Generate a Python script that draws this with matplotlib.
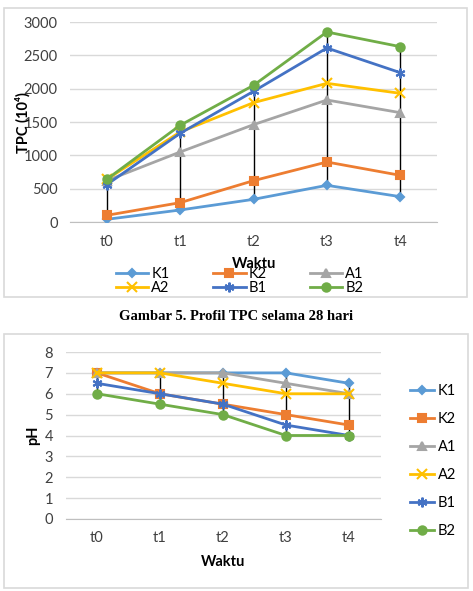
import matplotlib
matplotlib.use('Agg')
import matplotlib.pyplot as plt
from matplotlib.patches import Rectangle

plt.rcParams['font.family'] = ['Lato', 'DejaVu Sans']

waktu = ['t0', 't1', 't2', 't3', 't4']
series = ['K1', 'K2', 'A1', 'A2', 'B1', 'B2']

tpc_k1 = [40, 180, 340, 550, 380]
tpc_k2 = [100, 290, 620, 900, 700]
tpc_a1 = [620, 1050, 1460, 1830, 1640]
tpc_a2 = [640, 1350, 1790, 2080, 1930]
tpc_b1 = [560, 1330, 1960, 2610, 2240]
tpc_b2 = [640, 1450, 2050, 2850, 2630]

ph_k1 = [7, 7, 7, 7, 6.5]
ph_k2 = [7, 6, 5.5, 5, 4.5]
ph_a1 = [7, 7, 7, 6.5, 6]
ph_a2 = [7, 7, 6.5, 6, 6]
ph_b1 = [6.5, 6, 5.5, 4.5, 4]
ph_b2 = [6, 5.5, 5, 4, 4]

colors = ['#5B9BD5', '#ED7D31', '#A5A5A5', '#FFC000', '#4472C4', '#70AD47']
markers = ['D', 's', '^', 'x', (6, 2, 0), 'o']
msizes = [4, 6, 6, 7, 7, 6]

FS = 10.5
W, H = 473, 591
fig = plt.figure(figsize=(W / 100, H / 100), dpi=100)


def ax_px(x0, y0, x1, y1):
    # pixel box (top-left origin) -> axes
    return fig.add_axes([x0 / W, (H - y1) / H, (x1 - x0) / W, (y1 - y0) / H])


def border(x0, y0, x1, y1):
    fig.patches.append(Rectangle((x0 / W, (H - y1) / H), (x1 - x0) / W, (y1 - y0) / H,
                                 transform=fig.transFigure, fill=False,
                                 edgecolor='#D9D9D9', lw=1.2))


def style(ax, ymax, step):
    x = range(len(waktu))
    ax.set_xlim(-0.5, len(waktu) - 0.5)
    ax.set_ylim(0, ymax)
    ax.set_yticks([i * step for i in range(int(ymax / step) + 1)])
    ax.set_xticks(list(x))
    ax.set_xticklabels(waktu)
    for s in ['top', 'right', 'left']:
        ax.spines[s].set_visible(False)
    ax.spines['bottom'].set_color('#BFBFBF')
    ax.grid(axis='y', color='#D9D9D9', lw=1)
    ax.set_axisbelow(True)
    ax.tick_params(length=0, labelsize=FS, colors='#404040', pad=9)


def draw(ax, data):
    x = list(range(len(waktu)))
    lo = [min(v) for v in zip(*data)]
    hi = [max(v) for v in zip(*data)]
    ax.vlines(x, lo, hi, color='black', lw=1, zorder=2)
    lines = []
    for vals, c, m, ms, name in zip(data, colors, markers, msizes, series):
        ln, = ax.plot(x, vals, color=c, lw=2, marker=m, ms=ms, mec=c, mfc=c,
                      mew=1.5, label=name, zorder=3)
        lines.append(ln)
    return lines


# --- TPC chart
border(4, 8, 467, 297)
ax1 = ax_px(70, 22, 437, 222)
style(ax1, 3000, 500)
lines = draw(ax1, [tpc_k1, tpc_k2, tpc_a1, tpc_a2, tpc_b1, tpc_b2])
fig.text(23 / W, 1 - 123 / H, 'TPC (10⁴)', rotation=90, ha='center', va='center',
         fontsize=FS, fontweight='bold')
fig.text(254 / W, 1 - 264 / H, 'Waktu', ha='center', va='center',
         fontsize=FS, fontweight='bold')
# row-wise order for a 3-column legend
order = [0, 3, 1, 4, 2, 5]
fig.legend([lines[i] for i in order], [series[i] for i in order], ncol=3, loc='center',
           bbox_to_anchor=(240 / W, 1 - 281 / H),
           frameon=False, fontsize=FS, handlelength=2.2, handletextpad=0.2,
           columnspacing=3.0, labelspacing=0.05, borderpad=0)

fig.text(236 / W, 1 - 317 / H, 'Gambar 5. Profil TPC selama 28 hari', ha='center',
         va='center', fontsize=10.5, fontweight='bold', family='Liberation Serif')

# --- pH chart
border(4, 334, 468, 588)
ax2 = ax_px(65.5, 352, 380.5, 519)
style(ax2, 8, 1)
lines2 = draw(ax2, [ph_k1, ph_k2, ph_a1, ph_a2, ph_b1, ph_b2])
fig.text(33 / W, 1 - 435 / H, 'pH', rotation=90, ha='center', va='center',
         fontsize=FS, fontweight='bold')
fig.text(223 / W, 1 - 562 / H, 'Waktu', ha='center', va='center',
         fontsize=FS, fontweight='bold')
fig.legend(lines2, series, loc='center left', bbox_to_anchor=(403 / W, 1 - 461 / H),
           frameon=False, fontsize=FS, handlelength=1.6, handletextpad=0.3,
           labelspacing=0.95, borderpad=0)

fig.savefig('out.png', dpi=100)
